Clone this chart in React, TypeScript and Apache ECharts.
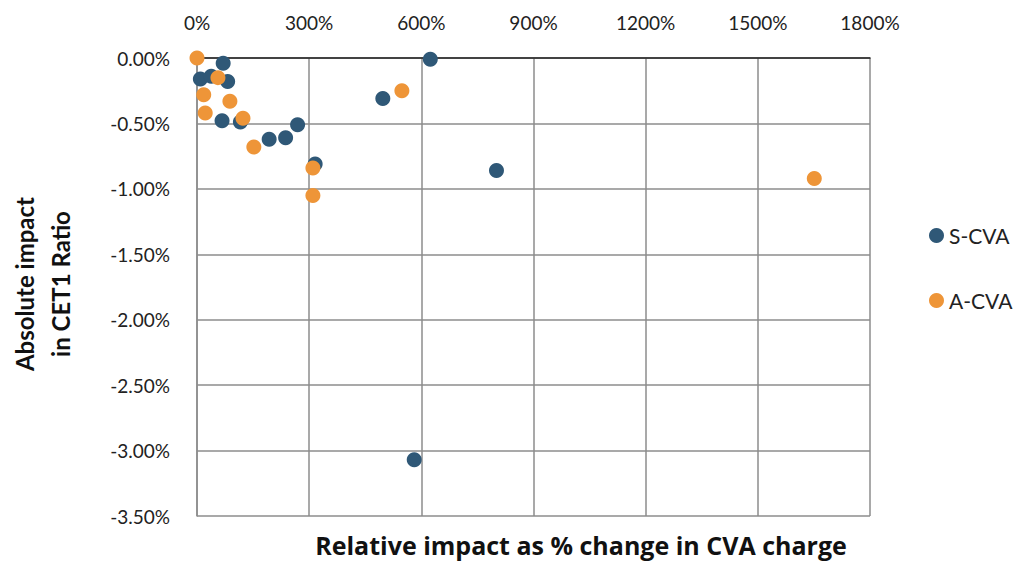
import React, { useEffect, useRef } from "react";
import * as echarts from "echarts";

const xTicks = [0, 300, 600, 900, 1200, 1500, 1800];
const sCvaX = [70, 9, 38, 82, 67, 116, 193, 237, 269, 316, 624, 497, 801, 581];
const sCvaY = [-0.04, -0.16, -0.14, -0.18, -0.48, -0.49, -0.62, -0.61, -0.51, -0.81, -0.01, -0.31, -0.86, -3.07];
const aCvaX = [0, 56, 18, 88, 22, 123, 152, 310, 310, 548, 1651];
const aCvaY = [0, -0.15, -0.28, -0.33, -0.42, -0.46, -0.68, -0.84, -1.05, -0.25, -0.92];
const xTitle = "Relative impact as % change in CVA charge";
const yTitle = "Absolute impact\nin CET1 Ratio";

const FONT = "Lato, 'Open Sans', sans-serif";

export default function App() {
  const ref = useRef<HTMLDivElement>(null);
  useEffect(() => {
    if (!ref.current) return;
    const chart = echarts.init(ref.current, null, { renderer: "svg" });
    const pair = (xs: number[], ys: number[]) => xs.map((x, i) => [x, ys[i]]);
    chart.setOption({
      animation: false,
      backgroundColor: "#ffffff",
      grid: { left: 197, right: 144, top: 58, bottom: 47, containLabel: false, outerBoundsMode: "none" },
      legend: {
        orient: "vertical",
        left: 924,
        top: 220,
        itemGap: 44,
        itemWidth: 15,
        itemHeight: 15,
        icon: "circle",
        textStyle: { fontSize: 21, color: "#222", fontFamily: FONT },
        data: ["S-CVA", "A-CVA"],
      },
      graphic: [
        {
          type: "text",
          x: 581,
          y: 545,
          style: {
            text: xTitle,
            fontSize: 25,
            fontWeight: "bold",
            fill: "#111",
            fontFamily: "'Open Sans', Lato, sans-serif",
            textAlign: "center",
            textVerticalAlign: "middle",
          },
        },
        {
          type: "text",
          x: 42,
          y: 284,
          rotation: Math.PI / 2,
          style: {
            text: yTitle,
            fontSize: 24,
            lineHeight: 36,
            fontWeight: "bold",
            fill: "#111",
            fontFamily: FONT,
            textAlign: "center",
            textVerticalAlign: "middle",
          },
        },
      ],
      xAxis: {
        type: "value",
        position: "top",
        min: xTicks[0],
        max: xTicks[xTicks.length - 1],
        interval: 300,
        axisLine: { onZero: false, lineStyle: { color: "#222", width: 1.5 } },
        axisTick: { show: false },
        axisLabel: {
          formatter: (v: number) => `${v}%`,
          fontSize: 19,
          color: "#222",
          margin: 26,
          fontFamily: FONT,
        },
        splitLine: { lineStyle: { color: "#8c8c8c", width: 1.5 } },
      },
      yAxis: {
        type: "value",
        min: -3.5,
        max: 0,
        interval: 0.5,
        axisLine: { show: true, onZero: false, lineStyle: { color: "#8c8c8c", width: 1.5 } },
        axisTick: { show: false },
        axisLabel: {
          formatter: (v: number) => `${v.toFixed(2)}%`,
          fontSize: 19,
          color: "#222",
          margin: 27,
          fontFamily: FONT,
        },
        splitLine: { lineStyle: { color: "#8c8c8c", width: 1.5 } },
      },
      series: [
        {
          name: "S-CVA",
          type: "scatter",
          symbolSize: 15,
          itemStyle: { color: "#2F5877", opacity: 1 },
          data: pair(sCvaX, sCvaY),
        },
        {
          name: "A-CVA",
          type: "scatter",
          symbolSize: 15,
          itemStyle: { color: "#EE9538", opacity: 1 },
          data: pair(aCvaX, aCvaY),
        },
      ],
    });
    return () => chart.dispose();
  }, []);
  return <div ref={ref} style={{ width: 1014, height: 563, position: "absolute", left: 0, top: 0 }} />;
}
